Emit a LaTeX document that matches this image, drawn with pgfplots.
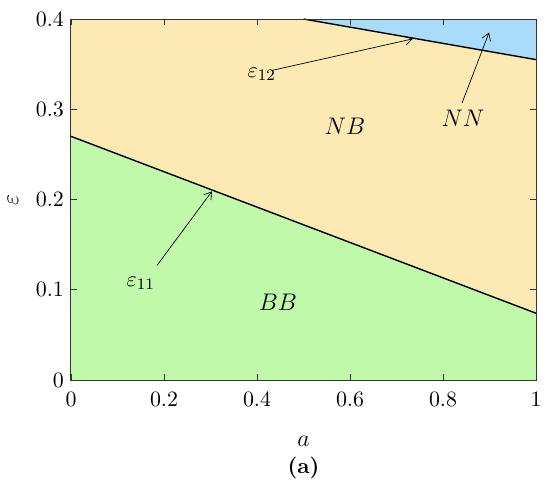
\documentclass[border=0pt]{standalone}
\usepackage{pgfplots}
\pgfplotsset{compat=1.18}
\usetikzlibrary{calc,arrows.meta}
\definecolor{bbgreen}{RGB}{191,249,169}
\definecolor{nbpeach}{RGB}{253,233,180}
\definecolor{nnblue}{RGB}{169,220,251}
\begin{document}
\begin{tikzpicture}[ann/.style={-{Straight Barb[length=3.5pt,width=4.5pt]}, line width=0.35pt}]
\begin{axis}[
    name=ax,
    scale only axis,
    width=232.5pt, height=180.5pt,
    xmin=0, xmax=1, ymin=0, ymax=0.4,
    xtick={0,0.2,0.4,0.6,0.8,1},
    ytick={0,0.1,0.2,0.3,0.4},
    tick align=inside,
    major tick length=3pt,
    axis line style={draw=black!80, line width=0.5pt},
    tick style={draw=black!80, line width=0.4pt},
    every tick label/.append style={font=\fontsize{10.95}{12}\selectfont},
    xticklabel style={yshift=-2.5pt},
    xlabel={$a$},
    ylabel={$\varepsilon$},
    label style={font=\fontsize{12}{14}\selectfont},
    x label style={at={(axis description cs:0.5,-0.17)}, anchor=center},
    y label style={at={(axis description cs:-0.125,0.5)}, anchor=center},
    clip=false,
    axis on top,
]
\addplot[draw=none, fill=bbgreen] coordinates {(0,0) (0,0.27) (1,0.074) (1,0)} -- cycle;
\addplot[draw=none, fill=nbpeach] coordinates {(0,0.27) (0,0.4) (0.5,0.4) (1,0.355) (1,0.074)} -- cycle;
\addplot[draw=none, fill=nnblue] coordinates {(0.5,0.4) (1,0.4) (1,0.355)} -- cycle;
\addplot[black, line width=0.7pt] coordinates {(0,0.27) (1,0.074)};
\addplot[black, line width=0.7pt] coordinates {(0.5,0.4) (1,0.355)};
\draw[ann] (axis cs:0.432,0.343) -- (axis cs:0.735,0.378);
\draw[ann] (axis cs:0.841,0.307) -- (axis cs:0.899,0.385);
\draw[ann] (axis cs:0.185,0.127) -- (axis cs:0.303,0.209);
\node[font=\fontsize{10.95}{13}\selectfont] at (axis cs:0.41,0.339) {$\varepsilon_{12}$};
\node[font=\fontsize{10.95}{13}\selectfont] at (axis cs:0.15,0.107) {$\varepsilon_{11}$};
\node[font=\fontsize{12}{14}\selectfont] at (axis cs:0.589,0.281) {$NB$};
\node[font=\fontsize{12}{14}\selectfont] at (axis cs:0.843,0.290) {$NN$};
\node[font=\fontsize{12}{14}\selectfont] at (axis cs:0.445,0.086) {$BB$};
\node[font=\fontsize{10.95}{12}\selectfont\bfseries] at (axis description cs:0.5,-0.245) {(a)};
\end{axis}
\path ($(ax.south west)+(-35.5pt,-54.5pt)$) rectangle ($(ax.north east)+(7pt,9.5pt)$);
\end{tikzpicture}
\end{document}
